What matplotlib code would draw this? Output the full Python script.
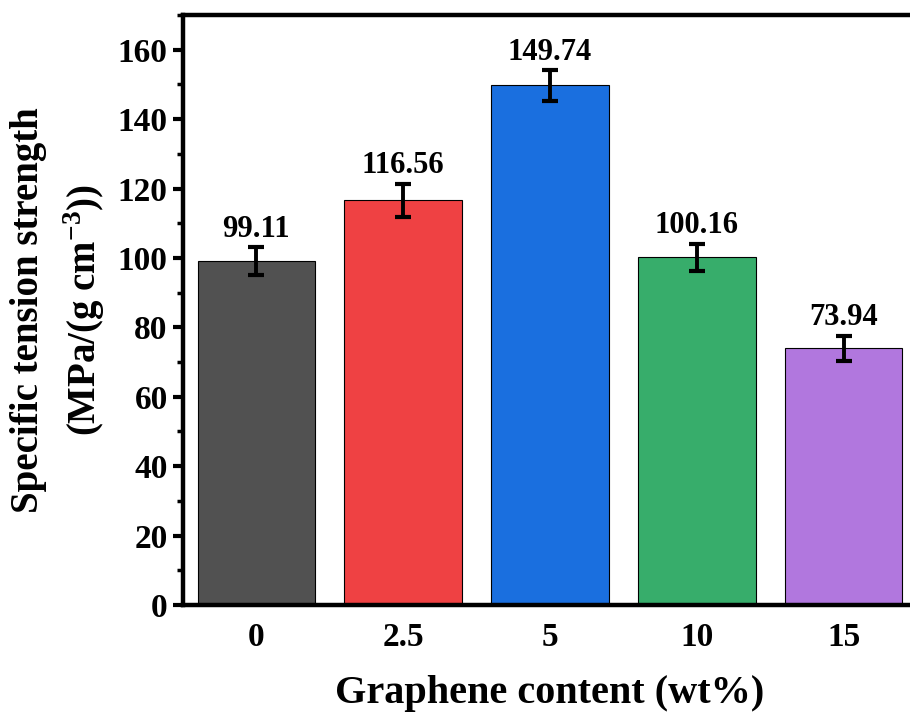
import matplotlib
matplotlib.use("Agg")
import matplotlib.pyplot as plt
from matplotlib.ticker import MultipleLocator

plt.rcParams["font.family"] = ["Liberation Serif", "DejaVu Serif"]
plt.rcParams["font.weight"] = "bold"
plt.rcParams["mathtext.fontset"] = "custom"
plt.rcParams["mathtext.rm"] = "Liberation Serif:bold"
plt.rcParams["mathtext.bf"] = "Liberation Serif:bold"

content = ["0", "2.5", "5", "10", "15"]
strength = [99.11, 116.56, 149.74, 100.16, 73.94]
err = [4.0, 4.8, 4.4, 3.9, 3.7]
colors = ["#515151", "#EF4143", "#1A6FDF", "#37AD6B", "#B177DE"]

fig = plt.figure(figsize=(9.1, 7.13), dpi=100)
ax = fig.add_axes([0.2011, 0.1515, 0.8066, 0.8275])

x = range(len(content))
ax.bar(x, strength, width=0.8, color=colors, edgecolor="black", linewidth=0.8)
ax.errorbar(x, strength, yerr=err, fmt="none", ecolor="black",
            elinewidth=2.8, capsize=6, capthick=3)

for xi, v, e in zip(x, strength, err):
    ax.text(xi, v + e + 1.0, f"{v:.2f}", ha="center", va="bottom",
            fontsize=22, fontweight="bold")

ax.set_xlim(-0.5, 4.5)
ax.set_ylim(0, 170)
ax.set_xticks(list(x))
ax.set_xticklabels(content)
ax.yaxis.set_major_locator(MultipleLocator(20))
ax.yaxis.set_minor_locator(MultipleLocator(10))

for s in ("left", "bottom", "top"):
    ax.spines[s].set_linewidth(3.2)
ax.spines["right"].set_visible(False)

ax.tick_params(axis="y", which="major", direction="out", length=7, width=3,
               labelsize=24, pad=4)
ax.tick_params(axis="y", which="minor", direction="out", length=4, width=2.5)
ax.tick_params(axis="x", length=0, labelsize=24, pad=12)

ax.set_xlabel("Graphene content (wt%)", fontsize=29, fontweight="bold",
              labelpad=16)
ax.set_ylabel("Specific tension strength\n(MPa/(g cm$^{\\mathbf{-3}}$))",
              fontsize=28, fontweight="bold", linespacing=1.4, labelpad=8)

fig.savefig("out.png", dpi=100, facecolor="white")
